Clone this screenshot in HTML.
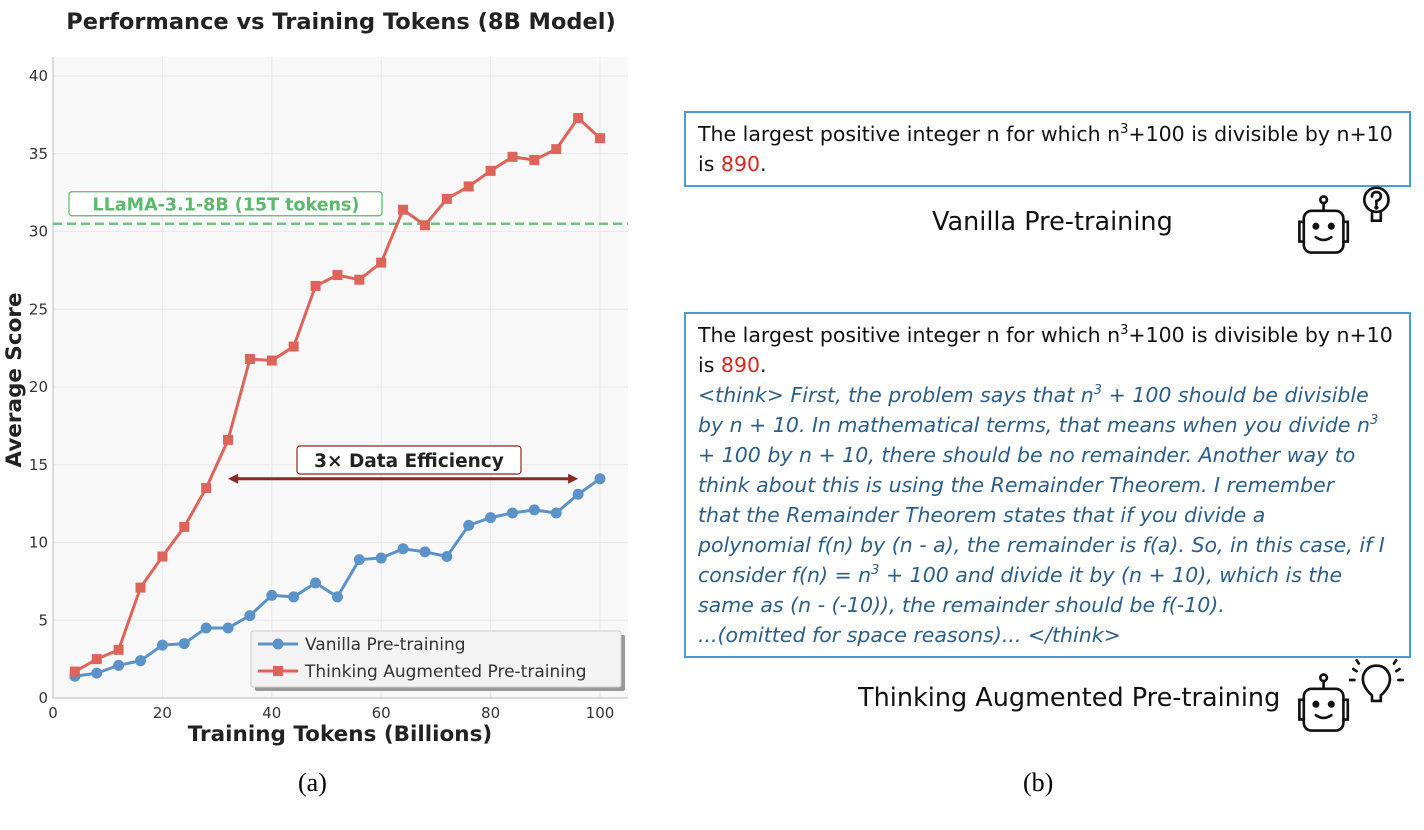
<!DOCTYPE html>
<html><head><meta charset="utf-8">
<style>
body{margin:0;width:1424px;height:830px;background:#fff;position:relative;overflow:hidden;font-family:"Liberation Sans","DejaVu Sans",sans-serif}
.box{position:absolute;border:2px solid #4a9bd1;box-sizing:border-box;padding:6px 12px;font-family:"DejaVu Sans","Liberation Sans",sans-serif;font-size:20.5px;line-height:30px;color:#111;white-space:nowrap}
.red{color:#d7261e}
.it{color:#2e5e86;font-style:italic}
.cap{position:absolute;font-family:"Liberation Serif",serif;font-size:26px}
.lbl{position:absolute;font-family:"DejaVu Sans",sans-serif;font-size:25.5px;color:#111}
</style></head><body>
<svg width="640" height="760" style="position:absolute;left:0;top:0" id="chart">
<text x="341" y="29" text-anchor="middle" font-family="DejaVu Sans" font-weight="bold" font-size="22.5" fill="#222">Performance vs Training Tokens (8B Model)</text>
</svg>
<div class="cap" style="left:298px;top:768px">(a)</div>
<div class="cap" style="left:1023px;top:768px">(b)</div>

<div class="box" style="left:684px;top:111px;width:727px;height:76px">The largest positive integer n for which n<sup style="font-size:13px;line-height:0">3</sup>+100 is divisible by n+10<br>is <span class="red">890</span>.</div>
<div class="lbl" style="left:932px;top:207px">Vanilla Pre-training</div>

<div class="box" style="left:684px;top:312px;width:727px;height:346px">The largest positive integer n for which n<sup style="font-size:13px;line-height:0">3</sup>+100 is divisible by n+10<br>is <span class="red">890</span>.<br><span class="it">&lt;think&gt; First, the problem says that n<sup style="font-size:13px;line-height:0">3</sup> + 100 should be divisible<br>by n + 10. In mathematical terms, that means when you divide n<sup style="font-size:13px;line-height:0">3</sup><br>+ 100 by n + 10, there should be no remainder. Another way to<br>think about this is using the Remainder Theorem. I remember<br>that the Remainder Theorem states that if you divide a<br>polynomial f(n) by (n - a), the remainder is f(a). So, in this case, if I<br>consider f(n) = n<sup style="font-size:13px;line-height:0">3</sup> + 100 and divide it by (n + 10), which is the<br>same as (n - (-10)), the remainder should be f(-10).<br>...(omitted for space reasons)... &lt;/think&gt;</span></div>
<div class="lbl" style="left:858px;top:683px">Thinking Augmented Pre-training</div>

<svg width="100" height="80" viewBox="0 0 100 80" style="position:absolute;left:1284px;top:180px;width:110px;height:88px" fill="none" stroke="#111" stroke-width="2.4" stroke-linecap="round">
<circle cx="36" cy="18" r="3"/><line x1="36" y1="21" x2="36" y2="28"/>
<rect x="18" y="28" width="36" height="38" rx="7"/><path d="M18 38h-4v18h4M54 38h4v18h-4"/>
<circle cx="29" cy="42" r="2" fill="#111"/><circle cx="43" cy="42" r="2" fill="#111"/><path d="M29 52q7 5 14 0"/>
<circle cx="84" cy="18" r="11"/><path d="M80 30v7h8v-7M80 15q0-4 4-4t4 4q0 3-4 4v3"/><circle cx="84" cy="25" r="0.8" fill="#111"/>
</svg>
<svg width="110" height="80" viewBox="0 0 110 80" style="position:absolute;left:1284px;top:658px;width:121px;height:88px" fill="none" stroke="#111" stroke-width="2.4" stroke-linecap="round">
<circle cx="36" cy="18" r="3"/><line x1="36" y1="21" x2="36" y2="28"/>
<rect x="18" y="28" width="36" height="38" rx="7"/><path d="M18 38h-4v18h4M54 38h4v18h-4"/>
<circle cx="29" cy="42" r="2" fill="#111"/><circle cx="43" cy="42" r="2" fill="#111"/><path d="M29 52q7 5 14 0"/>
<path d="M80 34q-10-9-8-18q3-9 12-9t12 9q2 9-8 18v5h-8z"/><path d="M66 12l-3-2M64 20h-4M68 5l-2-3M102 12l3-2M104 20h4M100 5l2-3"/>
</svg>

<script>
const xs=[4,8,12,16,20,24,28,32,36,40,44,48,52,56,60,64,68,72,76,80,84,88,92,96,100];
const vanilla=[1.4,1.6,2.1,2.4,3.4,3.5,4.5,4.5,5.3,6.6,6.5,7.4,6.5,8.9,9.0,9.6,9.4,9.1,11.1,11.6,11.9,12.1,11.9,13.1,14.1];
const thinking=[1.7,2.5,3.1,7.1,9.1,11.0,13.5,16.6,21.8,21.7,22.6,26.5,27.2,26.9,28.0,31.4,30.4,32.1,32.9,33.9,34.8,34.6,35.3,37.3,36.0];
const xTicks=[0,20,40,60,80,100];
const yTicks=[0,5,10,15,20,25,30,35,40];
const baseline=30.5;
const arrowFrom=32, arrowTo=96, arrowY=14.1;

const svg=document.getElementById('chart');
const NS='http://www.w3.org/2000/svg';
const X=v=>53+v*5.47, Y=v=>698-v*15.55;
function mk(t,a){const e=document.createElementNS(NS,t);for(const k in a)e.setAttribute(k,a[k]);svg.appendChild(e);return e;}
let e;
e=mk('rect',{x:53,y:57,width:575,height:641,fill:'#f8f8f8'});


xTicks.forEach(t=>{
 e=mk('line',{x1:X(t),x2:X(t),y1:57,y2:698,stroke:'#e8e8e8','stroke-width':1});
 
 
 e=mk('text',{x:X(t),y:718,'text-anchor':'middle','font-family':'DejaVu Sans','font-size':15,fill:'#333'});e.textContent=t;
 
 
});
yTicks.forEach(t=>{
 e=mk('line',{x1:53,x2:628,y1:Y(t),y2:Y(t),stroke:'#e8e8e8','stroke-width':1});
 
 
 e=mk('text',{x:48,y:Y(t)+5,'text-anchor':'end','font-family':'DejaVu Sans','font-size':15,fill:'#333'});e.textContent=t;
 
 
});
e=mk('path',{d:'M53 57V698H628',stroke:'#bbb',fill:'none','stroke-width':1});


e=mk('text',{x:340,y:741,'text-anchor':'middle','font-family':'DejaVu Sans','font-weight':'bold','font-size':21.5,fill:'#222'});e.textContent='Training Tokens (Billions)';


e=mk('text',{x:0,y:0,transform:'translate(21,380) rotate(-90)','text-anchor':'middle','font-family':'DejaVu Sans','font-weight':'bold','font-size':21.5,fill:'#222'});e.textContent='Average Score';


e=mk('line',{x1:53,x2:628,y1:Y(baseline),y2:Y(baseline),stroke:'#5cb86a','stroke-width':2.5,'stroke-dasharray':'9,5',opacity:0.85});


e=mk('rect',{x:69,y:Y(baseline)-32,width:313,height:24,rx:3,fill:'#fff',stroke:'#5cb86a','stroke-width':1.2});


e=mk('text',{x:226,y:Y(baseline)-13,'text-anchor':'middle','font-family':'DejaVu Sans','font-weight':'bold','font-size':17.5,fill:'#5cb86a'});e.textContent='LLaMA-3.1-8B (15T tokens)';


function series(vals,col,name,sq){
 e=mk('polyline',{points:xs.map((x,i)=>X(x)+','+Y(vals[i])).join(' '),fill:'none',stroke:col,'stroke-width':3,'stroke-linejoin':'round'});
 
 
 xs.forEach((x,i)=>{
  if(sq) e=mk('rect',{x:X(x)-5,y:Y(vals[i])-5,width:10,height:10,fill:col});
  else e=mk('circle',{cx:X(x),cy:Y(vals[i]),r:5.5,fill:col});
  
  
 });
}
series(vanilla,'#5b93c9','vanilla',false);
series(thinking,'#dd6459','thinking',true);
const ay=Y(arrowY);
e=mk('line',{x1:X(arrowFrom)+6,x2:X(arrowTo)-6,y1:ay,y2:ay,stroke:'#8b2a22','stroke-width':3});


e=mk('path',{d:`M${X(arrowFrom)} ${ay}l10 -5v10zM${X(arrowTo)} ${ay}l-10 -5v10z`,fill:'#8b2a22'});


e=mk('rect',{x:297,y:446,width:224,height:28,rx:3,fill:'#fff',stroke:'#8b2a22','stroke-width':1.2});


e=mk('text',{x:409,y:467,'text-anchor':'middle','font-family':'DejaVu Sans','font-weight':'bold','font-size':18.5,fill:'#222'});e.textContent='3× Data Efficiency';


e=mk('rect',{x:255,y:635,width:370,height:56,fill:'#999',rx:2});


e=mk('rect',{x:251,y:631,width:370,height:56,fill:'#f3f3f3',stroke:'#ccc',rx:2});


[['Vanilla Pre-training','#5b93c9',false,644],['Thinking Augmented Pre-training','#dd6459',true,671]].forEach(([t,c,sq,y])=>{
 e=mk('line',{x1:258,x2:298,y1:y,y2:y,stroke:c,'stroke-width':3});
 
 
 if(sq) e=mk('rect',{x:273,y:y-5,width:10,height:10,fill:c}); else e=mk('circle',{cx:278,cy:y,r:5.5,fill:c});
 
 
 e=mk('text',{x:305,y:y+6,'font-family':'DejaVu Sans','font-size':17,fill:'#333'});e.textContent=t;
 
 
});
</script>
</body></html>
